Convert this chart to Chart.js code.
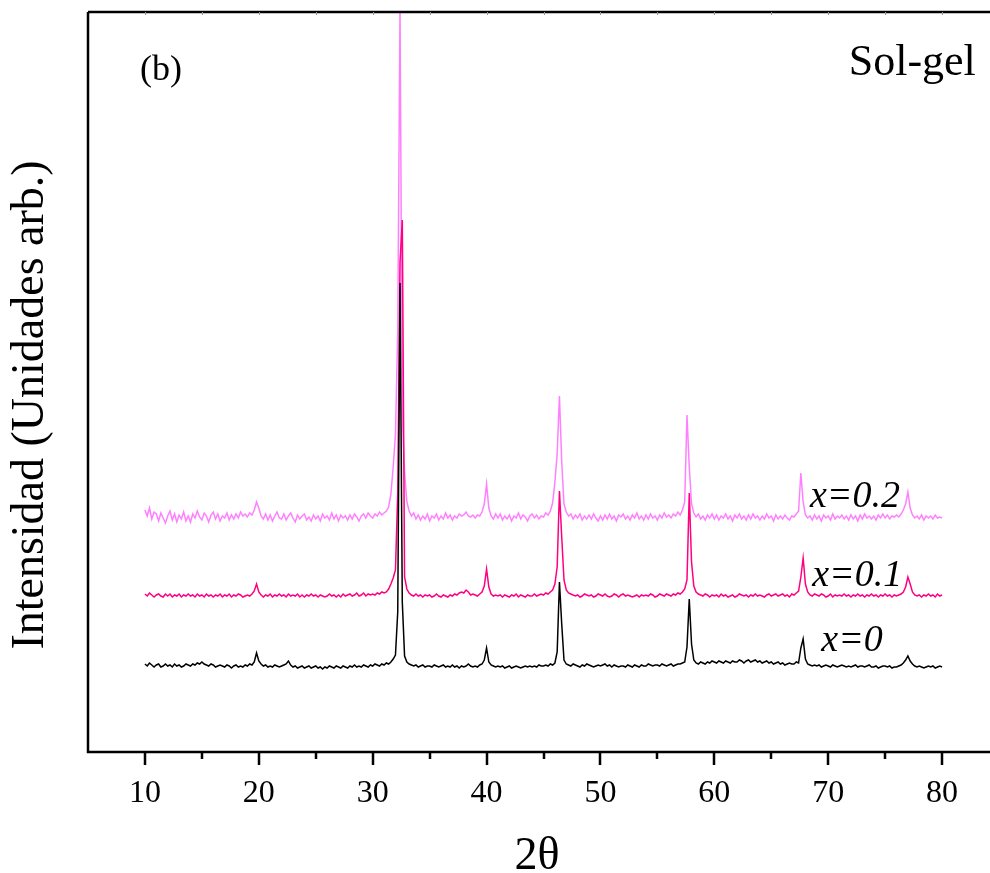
<!DOCTYPE html>
<html>
<head>
<meta charset="utf-8">
<script src="https://cdn.jsdelivr.net/npm/chart.js@4.4.1/dist/chart.umd.min.js"></script>
<style>
  html, body { margin: 0; padding: 0; background: #fff; overflow: hidden; }
  canvas { display: block; }
</style>
</head>
<body>
<canvas id="xrd" width="1010" height="873"></canvas>
<script>
// scan grid: 2-theta from 10 to 80 deg, 0.2 deg step
const scanStart = 10;
const scanStep = 0.2;

const sampleNames = ['x=0', 'x=0.1', 'x=0.2'];
const lineColors = ['#000000', '#ff0080', '#ff80ff'];
const majorTicks = [10, 20, 30, 40, 50, 60, 70, 80];
const minorTicks = [15, 25, 35, 45, 55, 65, 75];

// intensities (arb. units), one row per degree
const intX0 = [
  88,86,89,87,85, 87,88,85,86,88, 86,87,85,88,86, 87,85,86,88,87, 86,88,87,89,88,
  90,88,87,86,88, 87,85,86,87,86, 85,87,86,84,86, 87,85,86,85,87, 86,88,87,90,99,
  91,88,86,87,85, 86,85,87,86,85, 86,87,88,91,87, 85,86,84,85,86, 84,85,86,84,85,
  86,84,85,83,85, 84,86,85,84,86, 85,84,86,85,84, 86,85,87,85,86, 85,87,86,85,87,
  86,88,87,86,88, 87,89,88,90,93, 97,140,469,150,96, 90,88,87,86,87, 85,86,87,85,86,
  86,85,87,86,85, 86,87,85,86,85, 87,85,86,84,86, 85,86,88,86,85, 86,85,87,88,92,
  104,90,87,86,85, 86,85,86,84,85, 86,84,85,86,85, 84,85,86,85,86, 85,86,85,87,86,
  86,87,86,88,87, 89,100,170,128,92, 88,87,86,88,87, 86,85,87,86,88, 87,86,85,86,87,
  86,87,88,86,87, 85,87,86,85,86, 86,85,87,86,85, 87,86,85,87,86, 86,88,87,86,87,
  87,86,88,87,86, 87,88,86,87,88, 88,89,90,105,153, 108,92,89,88,90, 89,88,90,89,91,
  90,89,91,90,89, 91,90,89,91,90, 90,92,91,89,91, 92,90,91,92,90, 91,89,90,91,89,
  90,88,89,90,88, 89,87,88,89,88, 88,90,89,104,113, 93,88,87,86,87, 86,87,85,86,87,
  86,85,87,86,85, 86,87,86,85,86, 85,86,87,85,86, 86,85,86,87,85, 85,86,84,85,86,
  86,85,86,84,85, 85,86,87,89,92, 96,91,88,86,85, 86,85,84,85,86, 85,86,84,85,86,
  85
];

const intX01 = [
  158,156,159,157,155, 157,158,156,155,158, 156,158,155,157,156, 158,155,157,156,158, 156,157,155,158,156,
  157,155,158,156,157, 155,157,156,158,155, 157,156,158,155,157, 156,158,157,155,156, 157,156,158,161,168,
  160,157,155,157,156, 158,155,157,156,158, 156,157,155,158,156, 157,156,158,155,157, 155,157,156,158,156,
  157,155,157,156,155, 156,158,156,157,155, 157,155,158,156,157, 158,156,157,159,156, 157,159,156,158,157,
  158,157,159,158,160, 159,160,163,168,174, 182,260,490,532,175, 163,159,157,156,158, 156,157,155,157,156,
  157,155,156,158,156, 155,157,156,155,157, 156,158,157,159,160, 159,162,160,157,158, 157,156,158,160,166,
  183,165,158,156,157, 156,157,155,157,156, 155,157,156,158,155, 157,156,155,157,156, 156,158,156,157,158,
  157,159,158,160,162, 168,185,261,215,172, 162,159,158,157,156, 157,155,156,158,157, 156,157,155,156,158,
  157,156,158,156,155, 156,158,157,155,157, 158,156,157,156,155, 156,157,155,157,156, 157,156,158,157,155,
  156,158,157,156,158, 157,156,158,157,159, 158,160,163,172,259, 190,166,160,158,157, 156,158,157,155,157,
  156,157,155,158,156, 157,155,156,157,155, 156,158,157,156,157, 155,157,156,158,156, 157,156,155,157,158,
  156,157,158,156,157, 158,156,157,155,158, 157,159,161,175,194, 168,160,157,156,158, 157,156,158,157,155,
  156,158,155,157,156, 157,156,158,156,157, 155,157,156,158,156, 157,155,157,156,158, 156,157,155,157,156,
  158,156,157,155,157, 156,157,158,160,165, 175,168,160,157,156, 157,155,157,156,158, 156,157,155,158,156,
  157
];

const intX02 = [
  242,236,244,233,240, 238,231,239,234,229, 236,241,232,238,230, 237,233,240,231,236, 230,238,234,241,235,
  232,239,236,230,237, 240,233,238,231,236, 234,239,232,237,233, 238,234,240,236,238, 235,239,237,242,250,
  244,236,233,238,232, 237,231,236,240,234, 233,238,232,236,239, 234,230,237,233,236, 238,232,235,231,237,
  233,236,231,238,234, 236,232,239,233,237, 231,237,234,236,232, 237,233,238,235,231, 236,238,234,239,236,
  234,238,236,240,237, 239,241,245,258,285, 318,420,745,340,280, 250,241,236,239,233, 237,232,236,233,238,
  231,236,234,238,232, 236,233,239,234,237, 232,236,234,238,236, 237,240,236,235,237, 234,237,236,240,248,
  268,244,236,233,238, 234,238,232,236,233, 237,231,236,234,239, 233,237,235,231,236, 238,234,237,233,236,
  235,239,237,241,249, 270,298,356,290,248, 240,236,238,233,237, 234,238,232,236,233, 237,233,238,234,231,
  236,232,237,233,238, 233,236,231,237,235, 238,233,236,232,237, 234,239,233,236,232, 237,233,238,234,236,
  232,237,234,239,235, 237,234,238,236,240, 237,242,250,337,285, 248,239,235,238,233, 236,232,237,234,238,
  233,237,232,236,234, 238,233,236,231,237, 234,238,233,236,232, 237,233,238,234,236, 232,236,233,238,234,
  236,231,237,233,236, 233,237,234,232,236, 235,238,241,279,250, 237,234,236,232,237, 233,236,231,237,234,
  236,232,238,233,236, 234,237,233,236,232, 237,233,236,231,237, 233,238,234,236,233, 236,232,237,234,238,
  234,237,233,236,235, 237,235,238,242,248, 260,244,237,234,236, 233,237,232,236,234, 236,233,237,234,235,
  234
];

function toPoints(values) {
  return values.map((v, i) => ({ x: +(scanStart + i * scanStep).toFixed(1), y: v }));
}

const serif = "'Liberation Serif', 'Times New Roman', serif";

// axes frame, tick marks and the text drawn inside the plot
const framePlugin = {
  id: 'frame',
  afterDraw(chart) {
    const { ctx, chartArea: a, scales: { x, y } } = chart;
    ctx.save();
    ctx.strokeStyle = '#000';
    ctx.lineWidth = 2.5;
    ctx.beginPath();
    ctx.moveTo(a.left, a.top);
    ctx.lineTo(a.left, a.bottom);
    ctx.lineTo(a.right, a.bottom);
    ctx.moveTo(a.left, a.top);
    ctx.lineTo(a.right, a.top);
    ctx.stroke();

    ctx.lineWidth = 2.5;
    ctx.beginPath();
    majorTicks.forEach((v) => {
      const px = Math.round(x.getPixelForValue(v));
      ctx.moveTo(px, a.bottom);
      ctx.lineTo(px, a.bottom + 13);
    });
    minorTicks.forEach((v) => {
      const px = Math.round(x.getPixelForValue(v));
      ctx.moveTo(px, a.bottom);
      ctx.lineTo(px, a.bottom + 7);
    });
    ctx.stroke();

    // faint marks under the top border
    ctx.strokeStyle = '#999';
    ctx.lineWidth = 1;
    ctx.beginPath();
    majorTicks.concat(minorTicks).forEach((v) => {
      const px = Math.round(x.getPixelForValue(v)) + 0.5;
      ctx.moveTo(px, a.top);
      ctx.lineTo(px, a.top + 3);
    });
    ctx.stroke();

    ctx.fillStyle = '#000';
    ctx.textBaseline = 'alphabetic';
    ctx.textAlign = 'left';
    ctx.font = '36px ' + serif;
    ctx.fillText('(b)', x.getPixelForValue(9.56), y.getPixelForValue(672));
    ctx.font = '44px ' + serif;
    ctx.fillText('Sol-gel', x.getPixelForValue(71.8), y.getPixelForValue(677));

    ctx.font = 'italic 38px ' + serif;
    ctx.fillText(sampleNames[2], x.getPixelForValue(68.4), y.getPixelForValue(245));
    ctx.fillText(sampleNames[1], x.getPixelForValue(68.6), y.getPixelForValue(166));
    ctx.fillText(sampleNames[0], x.getPixelForValue(69.4), y.getPixelForValue(101));

    // axis titles
    ctx.font = '46px ' + serif;
    ctx.textAlign = 'center';
    ctx.fillText('2\u03b8', 537, 869);
    ctx.translate(31, 405);
    ctx.rotate(-Math.PI / 2);
    ctx.textBaseline = 'middle';
    ctx.fillText('Intensidad (Unidades arb.)', 0, 0);
    ctx.restore();
  }
};

const series = [intX0, intX01, intX02];

new Chart(document.getElementById('xrd'), {
  type: 'line',
  data: {
    datasets: series.map((vals, i) => ({
      label: sampleNames[i],
      data: toPoints(vals),
      borderColor: lineColors[i],
      borderWidth: 1.5,
      pointRadius: 0,
      tension: 0,
      fill: false,
    })),
  },
  options: {
    responsive: false,
    animation: false,
    devicePixelRatio: 1,
    layout: { padding: { left: 88, right: 11, top: 12, bottom: 0 } },
    plugins: { legend: { display: false }, tooltip: { enabled: false } },
    scales: {
      x: {
        type: 'linear',
        min: 5,
        max: 85,
        border: { display: false },
        grid: { display: false, drawTicks: false },
        afterBuildTicks: (scale) => {
          scale.ticks = majorTicks.map((v) => ({ value: v }));
        },
        afterFit: (scale) => { scale.height = 121; },
        ticks: {
          padding: 22,
          maxRotation: 0,
          autoSkip: false,
          color: '#000',
          font: { family: serif, size: 32 },
        },
      },
      y: {
        display: false,
        min: 0,
        max: 740,
      },
    },
  },
  plugins: [framePlugin],
});
</script>
</body>
</html>
